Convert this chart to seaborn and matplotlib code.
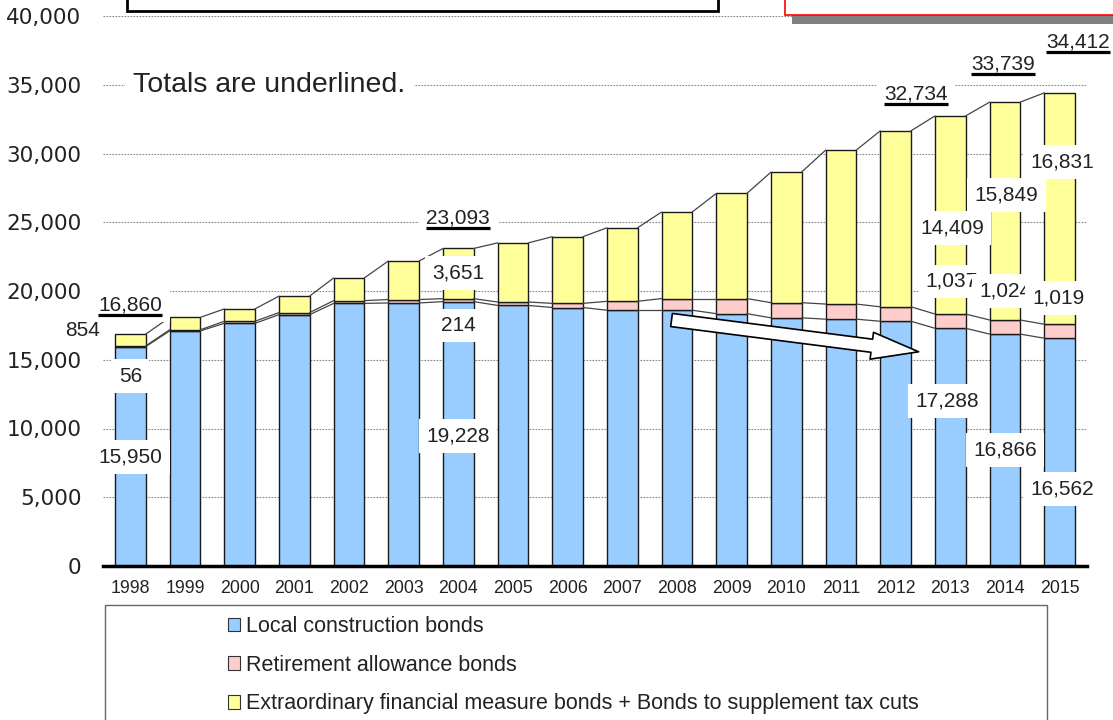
import matplotlib
matplotlib.use("Agg")
import matplotlib.pyplot as plt
import seaborn as sns
from matplotlib.patches import Rectangle, Patch, FancyArrowPatch
from matplotlib.lines import Line2D
from matplotlib.ticker import FuncFormatter

# values (100 million yen)
years = [str(y) for y in range(1998, 2016)]
construction = [15950, 17100, 17650, 18280, 19100, 19130, 19228, 18950, 18800,
                18600, 18600, 18350, 18050, 17950, 17800, 17288, 16866, 16562]
retirement = [56, 80, 150, 150, 200, 250, 214, 250, 300,
              650, 850, 1100, 1100, 1100, 1050, 1037, 1024, 1019]
extraordinary = [854, 900, 900, 1200, 1650, 2800, 3651, 4300, 4850,
                 5350, 6300, 7650, 9500, 11200, 12800, 14409, 15849, 16831]

series_names = ["Local construction bonds",
                "Retirement allowance bonds",
                "Extraordinary financial measure bonds + Bonds to supplement tax cuts"]
colors = ["#99CCFF", "#FFCCCC", "#FFFF99"]

totals = [a + b + c for a, b, c in zip(construction, retirement, extraordinary)]

# where the value labels sit: (year, series, x shift from bar centre, y)
label_spots = [
    ("1998", "total", 0.0, 18980), ("1998", "extra", -0.87, 17160),
    ("1998", "retire", 0.0, 13800), ("1998", "constr", 0.0, 7930),
    ("2004", "total", 0.0, 25300), ("2004", "extra", 0.0, 21300),
    ("2004", "retire", 0.0, 17500), ("2004", "constr", 0.0, 9450),
    ("2013", "total", -0.63, 34300), ("2013", "extra", 0.03, 24600),
    ("2013", "retire", 0.03, 20700), ("2013", "constr", -0.05, 12000),
    ("2014", "total", -0.04, 36500), ("2014", "extra", 0.03, 27000),
    ("2014", "retire", 0.0, 20000), ("2014", "constr", 0.0, 8440),
    ("2015", "total", 0.33, 38100), ("2015", "extra", 0.04, 29400),
    ("2015", "retire", -0.03, 19500), ("2015", "constr", 0.04, 5600),
]

sns.set_style("white")
plt.rcParams["font.family"] = ["Liberation Sans", "DejaVu Sans"]

W, H = 1113, 720
fig = plt.figure(figsize=(W / 100, H / 100), dpi=100)
ax = fig.add_axes([103 / W, 154 / H, 984 / W, 550 / H])

bar_w = 0.56
bottoms = [0] * len(years)
levels = []
for vals, col in zip([construction, retirement, extraordinary], colors):
    sns.barplot(x=years, y=vals, bottom=bottoms, color=col, saturation=1,
                width=bar_w, edgecolor="#1a1a1a", linewidth=1.0,
                errorbar=None, ax=ax, zorder=2)
    bottoms = [b + v for b, v in zip(bottoms, vals)]
    levels.append(bottoms)

# thin connector lines between neighbouring bars
for lvl in levels:
    for i in range(len(years) - 1):
        ax.plot([i + bar_w / 2, i + 1 - bar_w / 2], [lvl[i], lvl[i + 1]],
                color="#444444", lw=0.9, zorder=3)

ax.set_xlim(-0.5, len(years) - 0.5)
ax.set_ylim(0, 40000)
ax.set_yticks(range(0, 40001, 5000))
ax.yaxis.set_major_formatter(FuncFormatter(lambda v, p: f"{v:,.0f}"))
ax.yaxis.grid(True, linestyle=(0, (1.5, 1.2)), color="#888888", lw=0.8)
ax.set_axisbelow(True)
for s in ["left", "right", "top"]:
    ax.spines[s].set_visible(False)
ax.spines["bottom"].set_linewidth(2.5)
ax.spines["bottom"].set_color("black")
ax.tick_params(axis="y", length=0, pad=15.5, labelcolor="#222222")
ax.tick_params(axis="x", length=0, pad=10, labelsize=12.8, labelcolor="#222222")
for lab in ax.get_yticklabels():
    lab.set_fontfamily("DejaVu Sans")
    lab.set_fontsize(15.5)
ax.set_xlabel("")
ax.set_ylabel("")

# value labels
series_vals = {"constr": construction, "retire": retirement, "extra": extraordinary}
underlined = []
for year, key, dx, y in label_spots:
    i = years.index(year)
    value = totals[i] if key == "total" else series_vals[key][i]
    t = ax.text(i + dx, y, f"{value:,}", ha="center", va="center", fontsize=15,
                color="#222222",
                bbox=dict(boxstyle="square,pad=0.35", fc="white", ec="none"),
                zorder=6)
    if key == "total":
        underlined.append(t)

ax.text(0.05, 35000, "Totals are underlined.", ha="left", va="center",
        fontsize=20.5, color="#222222",
        bbox=dict(boxstyle="square,pad=0.3", fc="white", ec="none"), zorder=6)

# decreasing trend arrow
arrow = FancyArrowPatch((9.9, 17890), (14.42, 15580),
                        arrowstyle="simple,head_length=3.4,head_width=1.95,tail_width=0.95",
                        mutation_scale=10, fc="white", ec="black", lw=1.2,
                        shrinkA=0, shrinkB=0, zorder=5)
ax.add_patch(arrow)

# boxes cut off at the top of the picture
fig.add_artist(Rectangle((127 / W, 1 - 11 / H), 591 / W, 0.1, transform=fig.transFigure,
                         fc="white", ec="black", lw=2, clip_on=False))
fig.add_artist(Rectangle((792 / W, 1 - 24 / H), 0.3, 0.1, transform=fig.transFigure,
                         fc="#808080", ec="none", clip_on=False))
fig.add_artist(Rectangle((785 / W, 1 - 15 / H), 0.3, 0.1, transform=fig.transFigure,
                         fc="white", ec="red", lw=1.2, clip_on=False))

# legend with its own frame
fig.add_artist(Rectangle((105 / W, -0.05), 942 / W, 0.05 + 115 / H, transform=fig.transFigure,
                         fc="white", ec="#666666", lw=1, clip_on=False))
handles = [Patch(facecolor=c, edgecolor="#333333", lw=0.8) for c in colors]
fig.legend(handles, series_names, loc="upper left", bbox_to_anchor=(228 / W, 1 - 616 / H),
           frameon=False, fontsize=15.5, handlelength=0.55, handleheight=0.6,
           handletextpad=0.3, labelspacing=0.82, borderpad=0, borderaxespad=0,
           labelcolor="#222222")

# underline the totals
fig.canvas.draw()
renderer = fig.canvas.get_renderer()
for t in underlined:
    bb = t.get_window_extent(renderer)
    y = bb.y0 - 0.5
    fig.add_artist(Line2D([bb.x0 / W, bb.x1 / W], [y / H, y / H],
                          transform=fig.transFigure, color="black", lw=2.3,
                          solid_capstyle="butt", zorder=7))

fig.savefig("out.png", dpi=100)
